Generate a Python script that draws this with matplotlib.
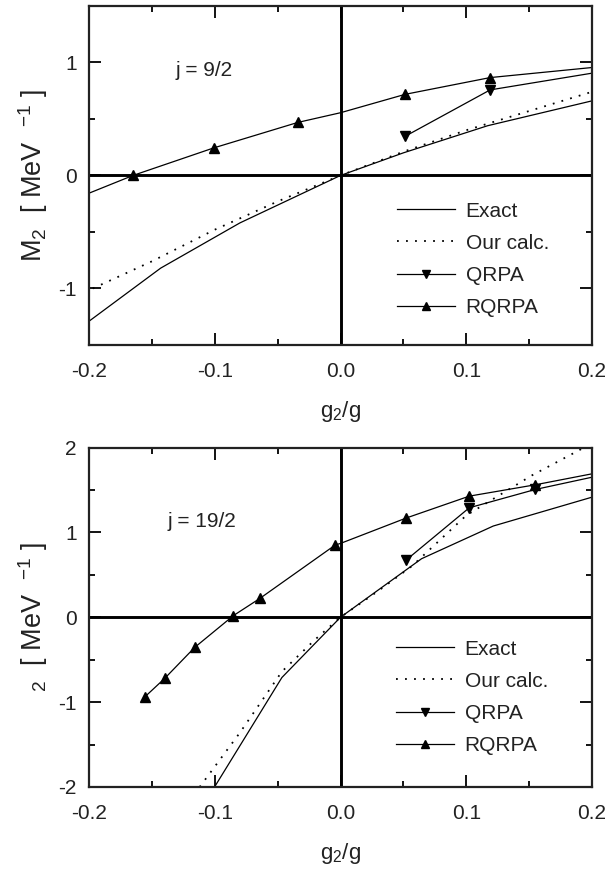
import matplotlib
matplotlib.use("Agg")
import matplotlib.pyplot as plt
from matplotlib.ticker import MultipleLocator, FuncFormatter

plt.rcParams['font.family'] = ['Liberation Sans', 'DejaVu Sans']
plt.rcParams['axes.unicode_minus'] = False
plt.rcParams['mathtext.fontset'] = 'custom'
plt.rcParams['mathtext.rm'] = 'Liberation Sans'
plt.rcParams['mathtext.it'] = 'Liberation Sans'

# ---------------- data: j = 9/2 ----------------
exact9_x = [-0.2, -0.143, -0.08, 0.0, 0.05, 0.117, 0.2]
exact9_y = [-1.29, -0.82, -0.42, 0.0, 0.20, 0.44, 0.66]
our9_x = [-0.197, -0.15, -0.1, -0.05, 0.0, 0.05, 0.1, 0.15, 0.2]
our9_y = [-1.0, -0.76, -0.48, -0.23, 0.0, 0.21, 0.40, 0.57, 0.74]
q9_x = [0.0515, 0.119, 0.2]
q9_y = [0.347, 0.757, 0.905]
q9_marks = [0, 1]
rq9_x = [-0.2, -0.165, -0.101, -0.034, 0.0, 0.0515, 0.119, 0.2]
rq9_y = [-0.157, 0.0, 0.243, 0.469, 0.555, 0.718, 0.866, 0.955]
rq9_marks = [1, 2, 3, 5, 6]

# ---------------- data: j = 19/2 ----------------
exact19_x = [-0.101, -0.0466, 0.0, 0.0645, 0.1215, 0.2]
exact19_y = [-2.02, -0.71, 0.0, 0.69, 1.075, 1.415]
our19_x = [-0.112, -0.08, -0.0466, -0.02, 0.0, 0.03, 0.057, 0.1, 0.152, 0.19, 0.2]
our19_y = [-2.0, -1.36, -0.64, -0.26, 0.0, 0.31, 0.605, 1.2, 1.67, 1.97, 2.05]
q19_x = [0.0524, 0.1024, 0.155, 0.2]
q19_y = [0.676, 1.29, 1.506, 1.65]
q19_marks = [0, 1, 2]
rq19_x = [-0.1555, -0.1397, -0.116, -0.0851, -0.0642, -0.0043, 0.0, 0.0524, 0.1024, 0.155, 0.2]
rq19_y = [-0.937, -0.719, -0.356, 0.02, 0.221, 0.85, 0.87, 1.17, 1.427, 1.561, 1.69]
rq19_marks = [0, 1, 2, 3, 4, 5, 7, 8, 9]

xticks = [-0.2, -0.1, 0.0, 0.1, 0.2]
xticklabels = ["-0.2", "-0.1", "0.0", "0.1", "0.2"]
labels = ["Exact", "Our calc.", "QRPA", "RQRPA"]

fig = plt.figure(figsize=(6.08, 8.72), dpi=100)
ax1 = fig.add_axes([0.1464, 0.6044, 0.8273, 0.3888])
ax2 = fig.add_axes([0.1464, 0.0975, 0.8273, 0.3893])

LW = 0.9
MS = 6.5
FS = 15


def style(ax, ylim, ylabel, jtext, jpos, legpos):
    ax.set_xlim(-0.2, 0.2)
    ax.set_ylim(*ylim)
    ax.axhline(0, color='black', lw=2.1, zorder=1)
    ax.axvline(0, color='black', lw=2.1, zorder=1)
    ax.set_xticks(xticks)
    ax.set_xticklabels(xticklabels)
    ax.xaxis.set_minor_locator(MultipleLocator(0.05))
    ax.yaxis.set_major_locator(MultipleLocator(1))
    ax.yaxis.set_minor_locator(MultipleLocator(0.5))
    ax.yaxis.set_major_formatter(FuncFormatter(lambda v, p: "%d" % round(v)))
    ax.tick_params(which='both', direction='in', top=True, right=True,
                   width=1.3, colors='black', labelsize=FS, labelcolor='#222222')
    ax.tick_params(axis='x', which='both', pad=12)
    ax.tick_params(axis='y', which='both', pad=9)
    ax.tick_params(which='major', length=8.5)
    ax.tick_params(which='minor', length=4.5)
    for s in ax.spines.values():
        s.set_linewidth(1.6)
        s.set_color('#222222')
    ax.set_xlabel("g$_2$/g", fontsize=16, labelpad=13.5, color='#222222')
    ax.set_ylabel(ylabel, fontsize=19.5, labelpad=6, color='#222222')
    ax.text(jpos[0], jpos[1], jtext, fontsize=FS, va='center', ha='left', color='#222222')
    ax.legend(loc='upper left', bbox_to_anchor=legpos, frameon=False,
              fontsize=FS, handlelength=2.8, handletextpad=0.5,
              labelspacing=0.63, borderpad=0, borderaxespad=0, markerscale=0.8,
              labelcolor='#222222')


# top
ax1.plot(exact9_x, exact9_y, color='black', lw=LW, label=labels[0])
ax1.plot(our9_x, our9_y, color='black', lw=1.3, ls=(0, (1, 4)), label=labels[1])
ax1.plot(q9_x, q9_y, color='black', lw=LW, marker='v', ms=MS, markevery=q9_marks, label=labels[2])
ax1.plot(rq9_x, rq9_y, color='black', lw=LW, marker='^', ms=MS, markevery=rq9_marks, label=labels[3])
style(ax1, (-1.5, 1.5), "M$_2$  [ MeV  $^{-1}$ ]", "j = 9/2", (-0.131, 0.93), (0.612, 0.423))

# bottom
ax2.plot(exact19_x, exact19_y, color='black', lw=LW, label=labels[0])
ax2.plot(our19_x, our19_y, color='black', lw=1.3, ls=(0, (1, 4)), label=labels[1])
ax2.plot(q19_x, q19_y, color='black', lw=LW, marker='v', ms=MS, markevery=q19_marks, label=labels[2])
ax2.plot(rq19_x, rq19_y, color='black', lw=LW, marker='^', ms=MS, markevery=rq19_marks, label=labels[3])
style(ax2, (-2, 2), "${}_2$  [ MeV  $^{-1}$ ]", "j = 19/2", (-0.1376, 1.13), (0.610, 0.434))

fig.savefig("out.png", dpi=100)
